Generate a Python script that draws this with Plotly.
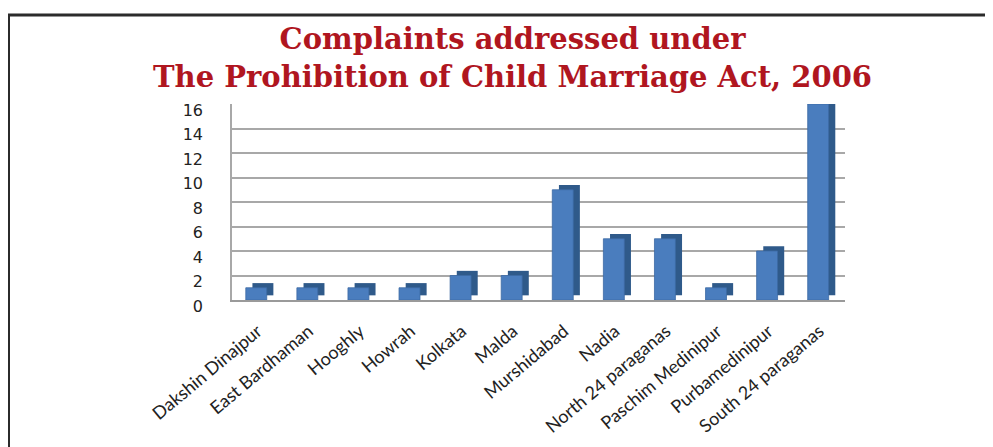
import plotly.graph_objects as go

districts = ["Dakshin Dinajpur", "East Bardhaman", "Hooghly", "Howrah", "Kolkata",
             "Malda", "Murshidabad", "Nadia", "North 24 paraganas",
             "Paschim Medinipur", "Purbamedinipur", "South 24 paraganas"]
complaints = [1, 1, 1, 1, 2, 2, 9, 5, 5, 1, 4, 16]
y_ticks = [0, 2, 4, 6, 8, 10, 12, 14, 16]

# page body has an 8px margin; work in screen pixels and convert
OFF = 8
W, H = 993 - OFF, 447 - OFF
L, R, T, B = 232 - OFF, 993 - 845, 104 - OFF, 447 - 300
pw, ph = W - L - R, H - T - B

def px(xs):  # screen x -> paper x
    return (xs - OFF - L) / pw

def py(ys):  # screen y -> paper y
    return (H - B - (ys - OFF)) / ph

depth = 0.38

fig = go.Figure()
# side/top shading (depth)
fig.add_trace(go.Bar(
    x=districts, y=complaints, base=[depth] * len(complaints),
    width=0.41, offset=-0.10,
    marker=dict(color="#2F5A8A", line=dict(width=0)),
    hoverinfo="skip", showlegend=False))
# front faces
fig.add_trace(go.Bar(
    x=districts, y=complaints,
    width=0.41, offset=-0.23,
    marker=dict(color="#4A7DBE", line=dict(color="#3C6AA3", width=0.8)),
    showlegend=False))

fig.update_layout(
    width=W, height=H,
    margin=dict(l=L, r=R, t=T, b=B, autoexpand=False),
    paper_bgcolor="white", plot_bgcolor="white",
    barmode="overlay",
    font=dict(family="Open Sans", color="#333333"),
    xaxis=dict(
        tickangle=-40, tickfont=dict(family="Lato", size=18, color="#222222"),
        showline=True, linecolor="#9A9A9A", linewidth=1.5, automargin=False,
        showgrid=False, ticks="", ticklabelstandoff=12,
        range=[-0.5, len(districts) - 0.5]),
    yaxis=dict(
        range=[0, 16], tickvals=y_ticks,
        tickfont=dict(family="DejaVu Sans", size=16, color="#222222"),
        showgrid=True, gridcolor="#A8A8A8", gridwidth=1.5, automargin=False,
        showline=True, linecolor="#A8A8A8", linewidth=1.5,
        ticks="", ticklabelstandoff=24, ticklabelshift=6, zeroline=False),
    annotations=[dict(
        text="Complaints addressed under<br>The Prohibition of Child Marriage Act, 2006",
        xref="paper", yref="paper", x=px(512), y=py(58.5),
        xanchor="center", yanchor="middle", showarrow=False, align="center",
        font=dict(family="DejaVu Serif", size=29, color="#B0161F", weight="bold"))],
    shapes=[
        dict(type="line", xref="paper", yref="paper",
             x0=px(OFF), x1=px(1000), y0=py(15), y1=py(15),
             line=dict(color="#2B2B2B", width=3)),
        dict(type="line", xref="paper", yref="paper",
             x0=px(OFF + 1), x1=px(OFF + 1), y0=py(15), y1=py(460),
             line=dict(color="#2B2B2B", width=2)),
    ],
)

fig.write_html("out.html")
